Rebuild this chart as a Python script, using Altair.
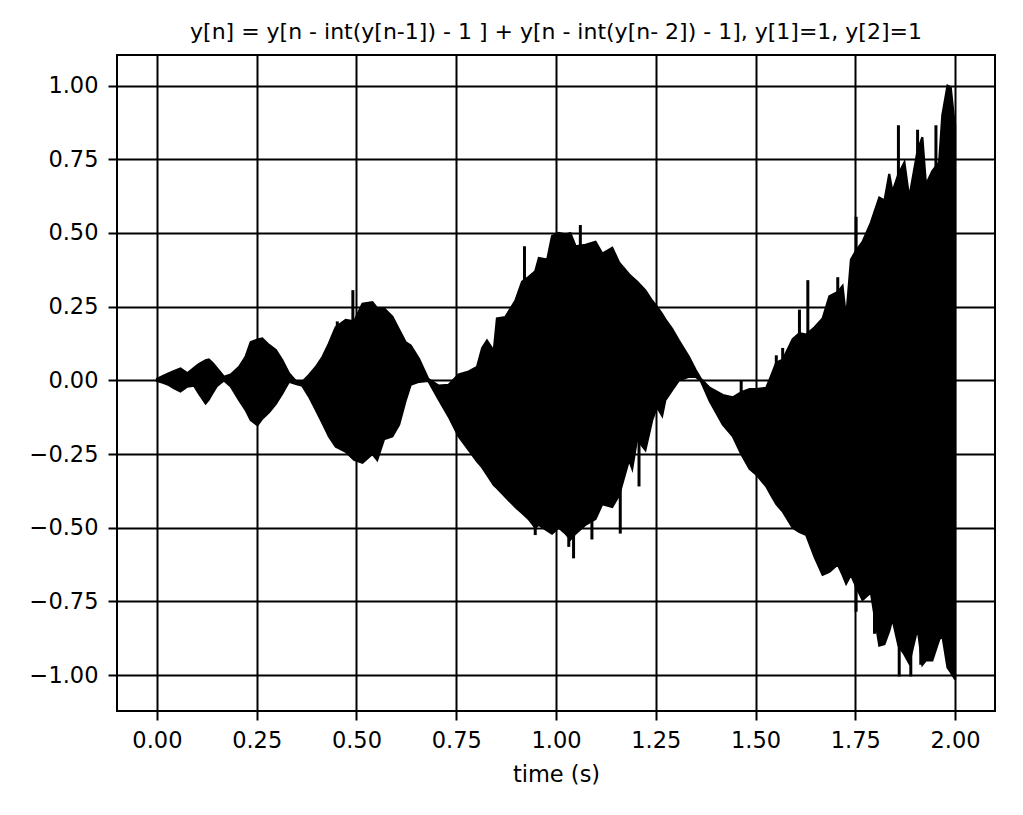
import pandas as pd
import altair as alt

# envelope of the waveform (time in s, upper / lower edge)
t = [0.000, 0.015, 0.030, 0.043, 0.059, 0.076, 0.093, 0.105, 0.122, 0.130,
     0.139, 0.150, 0.168, 0.185, 0.206, 0.222, 0.235, 0.252, 0.264, 0.281,
     0.298, 0.314, 0.331, 0.348, 0.364, 0.381, 0.398, 0.415, 0.431, 0.448,
     0.473, 0.494, 0.515, 0.540, 0.552, 0.569, 0.590, 0.607, 0.623, 0.636,
     0.657, 0.680, 0.706, 0.731, 0.756, 0.781, 0.802, 0.815, 0.827, 0.844,
     0.852, 0.873, 0.898, 0.915, 0.931, 0.948, 0.957, 0.978, 0.990, 1.007,
     1.024, 1.036, 1.049, 1.074, 1.099, 1.116, 1.141, 1.158, 1.183, 1.191,
     1.203, 1.224, 1.241, 1.253, 1.266, 1.274, 1.291, 1.308, 1.333, 1.350,
     1.363, 1.385, 1.418, 1.443, 1.464, 1.485, 1.502, 1.527, 1.539, 1.552,
     1.568, 1.593, 1.610, 1.627, 1.648, 1.668, 1.685, 1.706, 1.718, 1.727,
     1.739, 1.752, 1.768, 1.789, 1.810, 1.823, 1.835, 1.843, 1.858, 1.873,
     1.885, 1.906, 1.918, 1.927, 1.943, 1.960, 1.968, 1.981, 1.989, 1.998,
     2.000]

upper = [0.005, 0.015, 0.024, 0.032, 0.040, 0.024, 0.042, 0.055, 0.068, 0.071,
         0.060, 0.042, 0.012, 0.020, 0.046, 0.080, 0.130, 0.138, 0.142, 0.120,
         0.103, 0.069, 0.024, -0.002, -0.006, 0.018, 0.045, 0.080, 0.125, 0.180,
         0.205, 0.200, 0.260, 0.265, 0.245, 0.244, 0.216, 0.172, 0.130, 0.118,
         0.072, 0.005, -0.018, -0.015, 0.020, 0.030, 0.045, 0.110, 0.135, 0.100,
         0.210, 0.215, 0.270, 0.335, 0.350, 0.370, 0.415, 0.410, 0.490, 0.500,
         0.495, 0.500, 0.455, 0.460, 0.470, 0.430, 0.450, 0.400, 0.360, 0.350,
         0.335, 0.305, 0.270, 0.250, 0.225, 0.207, 0.175, 0.135, 0.080, 0.035,
         0.005, -0.025, -0.050, -0.058, -0.040, -0.030, -0.030, -0.025, 0.015, 0.060,
         0.070, 0.140, 0.160, 0.155, 0.180, 0.210, 0.285, 0.300, 0.320, 0.210,
         0.410, 0.440, 0.470, 0.535, 0.620, 0.610, 0.700, 0.640, 0.700, 0.740,
         0.620, 0.780, 0.825, 0.665, 0.710, 0.740, 0.900, 1.000, 0.995, 0.880,
         0.870]

lower = [-0.002, -0.008, -0.016, -0.027, -0.038, -0.021, -0.018, -0.044, -0.078, -0.065,
         -0.044, -0.020, 0.000, -0.021, -0.067, -0.100, -0.135, -0.152, -0.130, -0.108,
         -0.080, -0.045, -0.005, -0.012, -0.018, -0.055, -0.100, -0.146, -0.190, -0.225,
         -0.242, -0.270, -0.280, -0.250, -0.270, -0.200, -0.190, -0.150, -0.070, -0.015,
         -0.005, -0.002, -0.065, -0.123, -0.190, -0.236, -0.275, -0.295, -0.320, -0.355,
         -0.365, -0.395, -0.430, -0.450, -0.470, -0.500, -0.490, -0.510, -0.520, -0.500,
         -0.520, -0.540, -0.520, -0.490, -0.470, -0.420, -0.430, -0.390, -0.270, -0.300,
         -0.200, -0.236, -0.135, -0.090, -0.120, -0.067, -0.033, 0.000, 0.012, 0.012,
         -0.002, -0.070, -0.150, -0.190, -0.250, -0.300, -0.320, -0.360, -0.390, -0.420,
         -0.445, -0.500, -0.515, -0.525, -0.600, -0.660, -0.650, -0.625, -0.660, -0.690,
         -0.660, -0.700, -0.745, -0.720, -0.900, -0.895, -0.850, -0.810, -0.900, -0.930,
         -0.960, -0.840, -0.965, -0.950, -0.950, -0.880, -0.865, -0.975, -0.990, -1.010,
         -1.015]

# single tall spikes sticking out of the envelope
spike_t = [0.452, 0.491, 0.921, 1.061, 1.464, 1.552, 1.568, 1.610, 1.631, 1.706,
           1.752, 1.858, 1.906, 1.952,
           0.948, 1.032, 1.044, 1.090, 1.161, 1.208, 1.752, 1.798, 1.860, 1.889, 1.914]
spike_v = [0.200, 0.306, 0.455, 0.527, 0.000, 0.085, 0.110, 0.240, 0.340, 0.350,
           0.555, 0.866, 0.850, 0.866,
           -0.525, -0.565, -0.604, -0.540, -0.520, -0.360, -0.785, -0.860, -1.005, -1.005, -0.965]

x_ticks = [0.0, 0.25, 0.5, 0.75, 1.0, 1.25, 1.5, 1.75, 2.0]
y_ticks = [-1.0, -0.75, -0.5, -0.25, 0.0, 0.25, 0.5, 0.75, 1.0]

title = "y[n] = y[n - int(y[n-1]) - 1 ] + y[n - int(y[n- 2]) - 1], y[1]=1, y[2]=1"

env = pd.DataFrame({'t': t, 'upper': upper, 'lower': lower})
spikes = pd.DataFrame({'t': spike_t, 'v': spike_v})

FONT = 'DejaVu Sans'

xscale = alt.Scale(domain=[-0.1, 2.1], nice=False, zero=False)
yscale = alt.Scale(domain=[-1.122, 1.104], nice=False, zero=False)

xaxis = alt.Axis(values=x_ticks, format='.2f', title='time (s)', grid=True)
yaxis = alt.Axis(values=y_ticks, format='.2f', grid=True)

# the signal is so dense that it reads as a filled band
area = alt.Chart(env).mark_area(color='black', stroke='black', strokeWidth=2.2,
                                strokeJoin='miter').encode(
    x=alt.X('t:Q', scale=xscale, axis=xaxis),
    y=alt.Y('upper:Q', scale=yscale, axis=yaxis, title=None),
    y2='lower:Q'
)

rules = alt.Chart(spikes).mark_rule(color='black', strokeWidth=3).encode(
    x=alt.X('t:Q', scale=xscale),
    y=alt.Y('v:Q', scale=yscale),
    y2=alt.datum(-0.05)
)

chart = (area + rules).properties(
    width=878,
    height=656,
    autosize=alt.AutoSizeParams(type='none'),
    padding={'left': 109, 'top': 47, 'right': 20, 'bottom': 96},
    title=alt.TitleParams(title, fontSize=22, font=FONT, fontWeight='normal',
                          color='black', anchor='middle', offset=11)
).configure_view(
    stroke='black',
    strokeWidth=2
).configure_axis(
    labelFont=FONT,
    labelFontSize=22.5,
    labelColor='black',
    titleFont=FONT,
    titleFontSize=22.5,
    titleFontWeight='normal',
    titleColor='black',
    domain=False,
    tickColor='black',
    tickWidth=2,
    tickSize=9,
    gridColor='black',
    gridWidth=2,
    gridOpacity=1
).configure_axisX(
    labelPadding=9,
    titlePadding=12
).configure_axisY(
    labelPadding=10
)

chart.save("out.html", embed_options={"renderer": "svg", "actions": False})
